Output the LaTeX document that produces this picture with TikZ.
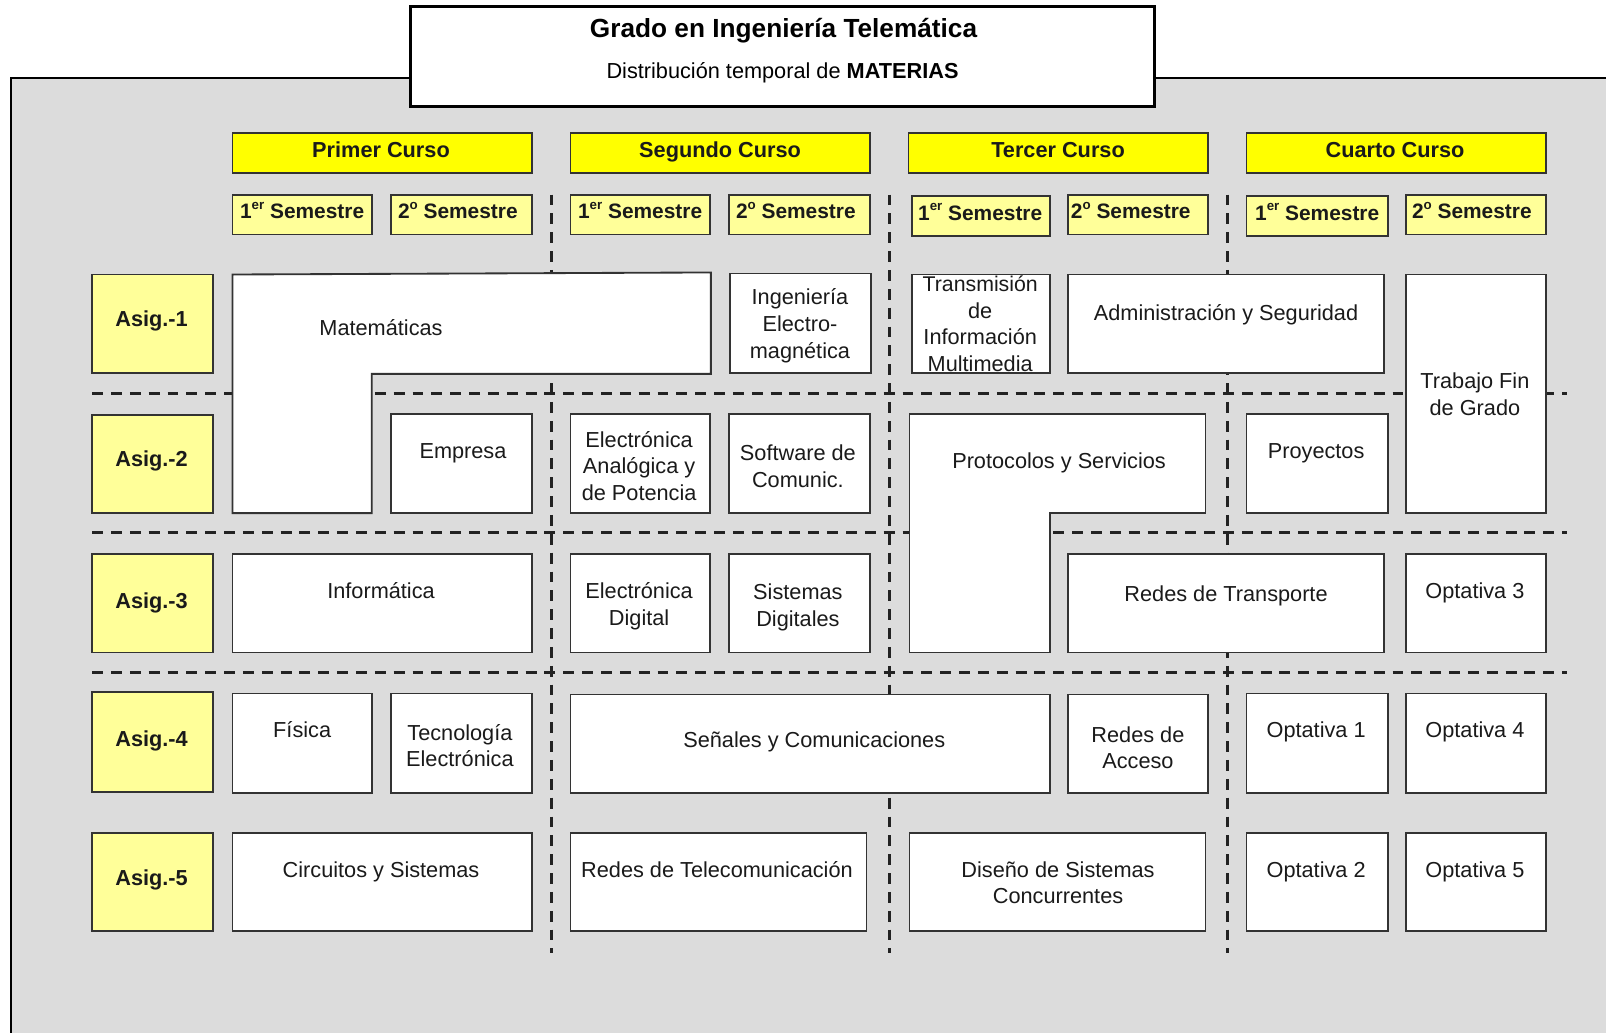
\documentclass[tikz,border=0pt]{standalone}
\usepackage{fontspec}
\setmainfont{Liberation Sans}
\definecolor{bg}{HTML}{DCDCDC}
\definecolor{hdryellow}{HTML}{FFFF00}
\definecolor{lightyellow}{HTML}{FFFF99}
\definecolor{boxline}{HTML}{333333}
\definecolor{txtcol}{HTML}{1A1A1A}
\definecolor{gridcol}{HTML}{222222}
% single-line cell: name x1 y1 x2 y2 style tx ty text
\newcommand\cellbox[9]{%
  \pgfmathsetmacro\cbw{(#4-#2)*0.5}%
  \pgfmathsetmacro\cbh{(#5-#3)*0.5}%
  \node[#6,minimum width=\cbw pt,minimum height=\cbh pt] (#1) at ({(#2+#4)/2},{(#3+#5)/2}) {};%
  \node[txt] (#1-t) at (#7,#8) {#9};%
}
% multi-line cell
\newcommand\cellboxm[9]{%
  \pgfmathsetmacro\cbw{(#4-#2)*0.5}%
  \pgfmathsetmacro\cbh{(#5-#3)*0.5}%
  \node[#6,minimum width=\cbw pt,minimum height=\cbh pt] (#1) at ({(#2+#4)/2},{(#3+#5)/2}) {};%
  \node[mtxt] (#1-t) at (#7,#8) {#9};%
}
\newcommand\supr[1]{\raisebox{0.45em}{\fontsize{6.5}{7}\selectfont #1}}
\begin{document}
\begin{tikzpicture}[x=0.5pt,y=-0.5pt,
  cell/.style={draw=boxline,fill=white,line width=0.9pt,inner sep=0pt,outer sep=0pt},
  hdr/.style={cell,fill=hdryellow},
  sem/.style={cell,fill=lightyellow},
  mtxt/.style={inner sep=0pt,align=center,text=txtcol,font=\fontsize{10.6}{13}\selectfont},
  txt/.style={mtxt,text height=0.78em,text depth=0.2em},
  grid/.style={line width=1.5pt,draw=gridcol,dash pattern=on 5.3pt off 3.9pt},
  titlebox/.style={draw=black,fill=white,line width=1.6pt,inner sep=0pt}
]
\useasboundingbox (0,0) rectangle (1568,1008);
% outer gray frame
\begin{scope}
  \clip (0,0) rectangle (1568,1008);
  \fill[bg] (11,76) rectangle (1600,1040);
  \draw[line width=1.1pt,black] (1600,76) -- (11,76) -- (11,1040);
\end{scope}
% title
\node[titlebox,minimum width=363pt,minimum height=49pt] (title) at (764,55) {};
\node[txt,text=black,font=\fontsize{12.8}{15}\selectfont\bfseries] (title-t) at (765,31) {Grado en Ingeniería Telemática};
\node[txt,text=black] (subtitle-t) at (764,71) {Distribución temporal de \textbf{MATERIAS}};
% dashed grid
\draw[grid] (90,384) -- (1530,384);
\draw[grid] (90,520) -- (1530,520);
\draw[grid] (90,657) -- (1530,657);
\draw[grid] (538,190) -- (538,930);
\draw[grid] (868,190) -- (868,930);
\draw[grid] (1198,190) -- (1198,930);
% course headers
\cellbox{c1}{227}{130}{519}{169}{hdr}{372}{148}{\bfseries Primer Curso}
\cellbox{c2}{557}{130}{849}{169}{hdr}{703}{148}{\bfseries Segundo Curso}
\cellbox{c3}{887}{130}{1179}{169}{hdr}{1033}{148}{\bfseries Tercer Curso}
\cellbox{c4}{1217}{130}{1509}{169}{hdr}{1362}{148}{\bfseries Cuarto Curso}
% semesters
\cellbox{s11}{227}{190}{363}{229}{sem}{295}{208}{\bfseries\fontsize{10.2}{12}\selectfont 1\supr{er} Semestre}
\cellbox{s12}{382}{190}{519}{229}{sem}{447}{208}{\bfseries\fontsize{10.2}{12}\selectfont 2\supr{o} Semestre}
\cellbox{s21}{557}{190}{693}{229}{sem}{625}{208}{\bfseries\fontsize{10.2}{12}\selectfont 1\supr{er} Semestre}
\cellbox{s22}{712}{190}{849}{229}{sem}{777}{208}{\bfseries\fontsize{10.2}{12}\selectfont 2\supr{o} Semestre}
\cellbox{s31}{890}{191}{1025}{230}{sem}{957}{209}{\bfseries\fontsize{10.2}{12}\selectfont 1\supr{er} Semestre}
\cellbox{s32}{1043}{190}{1179}{229}{sem}{1104}{208}{\bfseries\fontsize{10.2}{12}\selectfont 2\supr{o} Semestre}
\cellbox{s41}{1217}{191}{1355}{230}{sem}{1286}{209}{\bfseries\fontsize{10.2}{12}\selectfont 1\supr{er} Semestre}
\cellbox{s42}{1373}{190}{1509}{229}{sem}{1437}{208}{\bfseries\fontsize{10.2}{12}\selectfont 2\supr{o} Semestre}
% row labels
\cellbox{a1}{90}{268}{208}{364}{sem}{148}{313}{\bfseries Asig.-1}
\cellbox{a2}{90}{405}{208}{501}{sem}{148}{450}{\bfseries Asig.-2}
\cellbox{a3}{90}{541}{208}{637}{sem}{148}{588}{\bfseries Asig.-3}
\cellbox{a4}{90}{676}{208}{773}{sem}{148}{723}{\bfseries Asig.-4}
\cellbox{a5}{90}{813}{208}{909}{sem}{148}{859}{\bfseries Asig.-5}
% L-shaped subjects
\draw[cell] (227,268) -- (694,266) -- (694,365) -- (363,365) -- (363,501) -- (227,501) -- cycle;
\node[txt] (mat-t) at (372,322) {Matemáticas};
\draw[cell] (888,404) -- (1177,404) -- (1177,501) -- (1025,501) -- (1025,637) -- (888,637) -- cycle;
\node[txt] (prot-t) at (1034,452) {Protocolos y Servicios};
% row 1
\cellboxm{iem}{713}{267}{850}{364}{cell}{781}{318}{Ingeniería\\Electro-\\magnética}
\cellboxm{tim}{890}{268}{1025}{364}{cell}{957}{316}{\fontsize{10.4}{12.2}\selectfont Transmisión\\de\\Información\\Multimedia}
\cellbox{ads}{1043}{268}{1351}{364}{cell}{1197}{307}{Administración y Seguridad}
\cellboxm{tfg}{1373}{268}{1509}{501}{cell}{1440}{385}{Trabajo Fin\\de Grado}
% row 2
\cellbox{emp}{382}{404}{519}{501}{cell}{452}{442}{Empresa}
\cellboxm{eap}{557}{404}{693}{501}{cell}{624}{455}{Electrónica\\Analógica y\\de Potencia}
\cellboxm{sdc}{712}{404}{849}{501}{cell}{779}{455}{Software de\\Comunic.}
\cellbox{pro}{1217}{404}{1355}{501}{cell}{1285}{442}{Proyectos}
% row 3
\cellbox{inf}{227}{541}{519}{637}{cell}{372}{579}{Informática}
\cellboxm{edi}{557}{541}{693}{637}{cell}{624}{592}{Electrónica\\Digital}
\cellboxm{sdi}{712}{541}{849}{637}{cell}{779}{593}{Sistemas\\Digitales}
\cellbox{rtr}{1043}{541}{1351}{637}{cell}{1197}{581}{Redes de Transporte}
\cellbox{op3}{1373}{541}{1509}{637}{cell}{1440}{579}{Optativa 3}
% row 4
\cellbox{fis}{227}{677}{363}{774}{cell}{295}{714}{Física}
\cellboxm{tel}{382}{677}{519}{774}{cell}{449}{728}{Tecnología\\Electrónica}
\cellbox{syc}{557}{678}{1025}{774}{cell}{795}{724}{Señales y Comunicaciones}
\cellboxm{rda}{1043}{678}{1179}{774}{cell}{1111}{730}{Redes de\\Acceso}
\cellbox{op1}{1217}{677}{1355}{774}{cell}{1285}{714}{Optativa 1}
\cellbox{op4}{1373}{677}{1509}{774}{cell}{1440}{714}{Optativa 4}
% row 5
\cellbox{cys}{227}{813}{519}{909}{cell}{372}{851}{Circuitos y Sistemas}
\cellbox{rdt}{557}{813}{846}{909}{cell}{700}{851}{Redes de Telecomunicación}
\cellboxm{dsc}{888}{813}{1177}{909}{cell}{1033}{862}{Diseño de Sistemas\\Concurrentes}
\cellbox{op2}{1217}{813}{1355}{909}{cell}{1285}{851}{Optativa 2}
\cellbox{op5}{1373}{813}{1509}{909}{cell}{1440}{851}{Optativa 5}
\end{tikzpicture}
\end{document}
